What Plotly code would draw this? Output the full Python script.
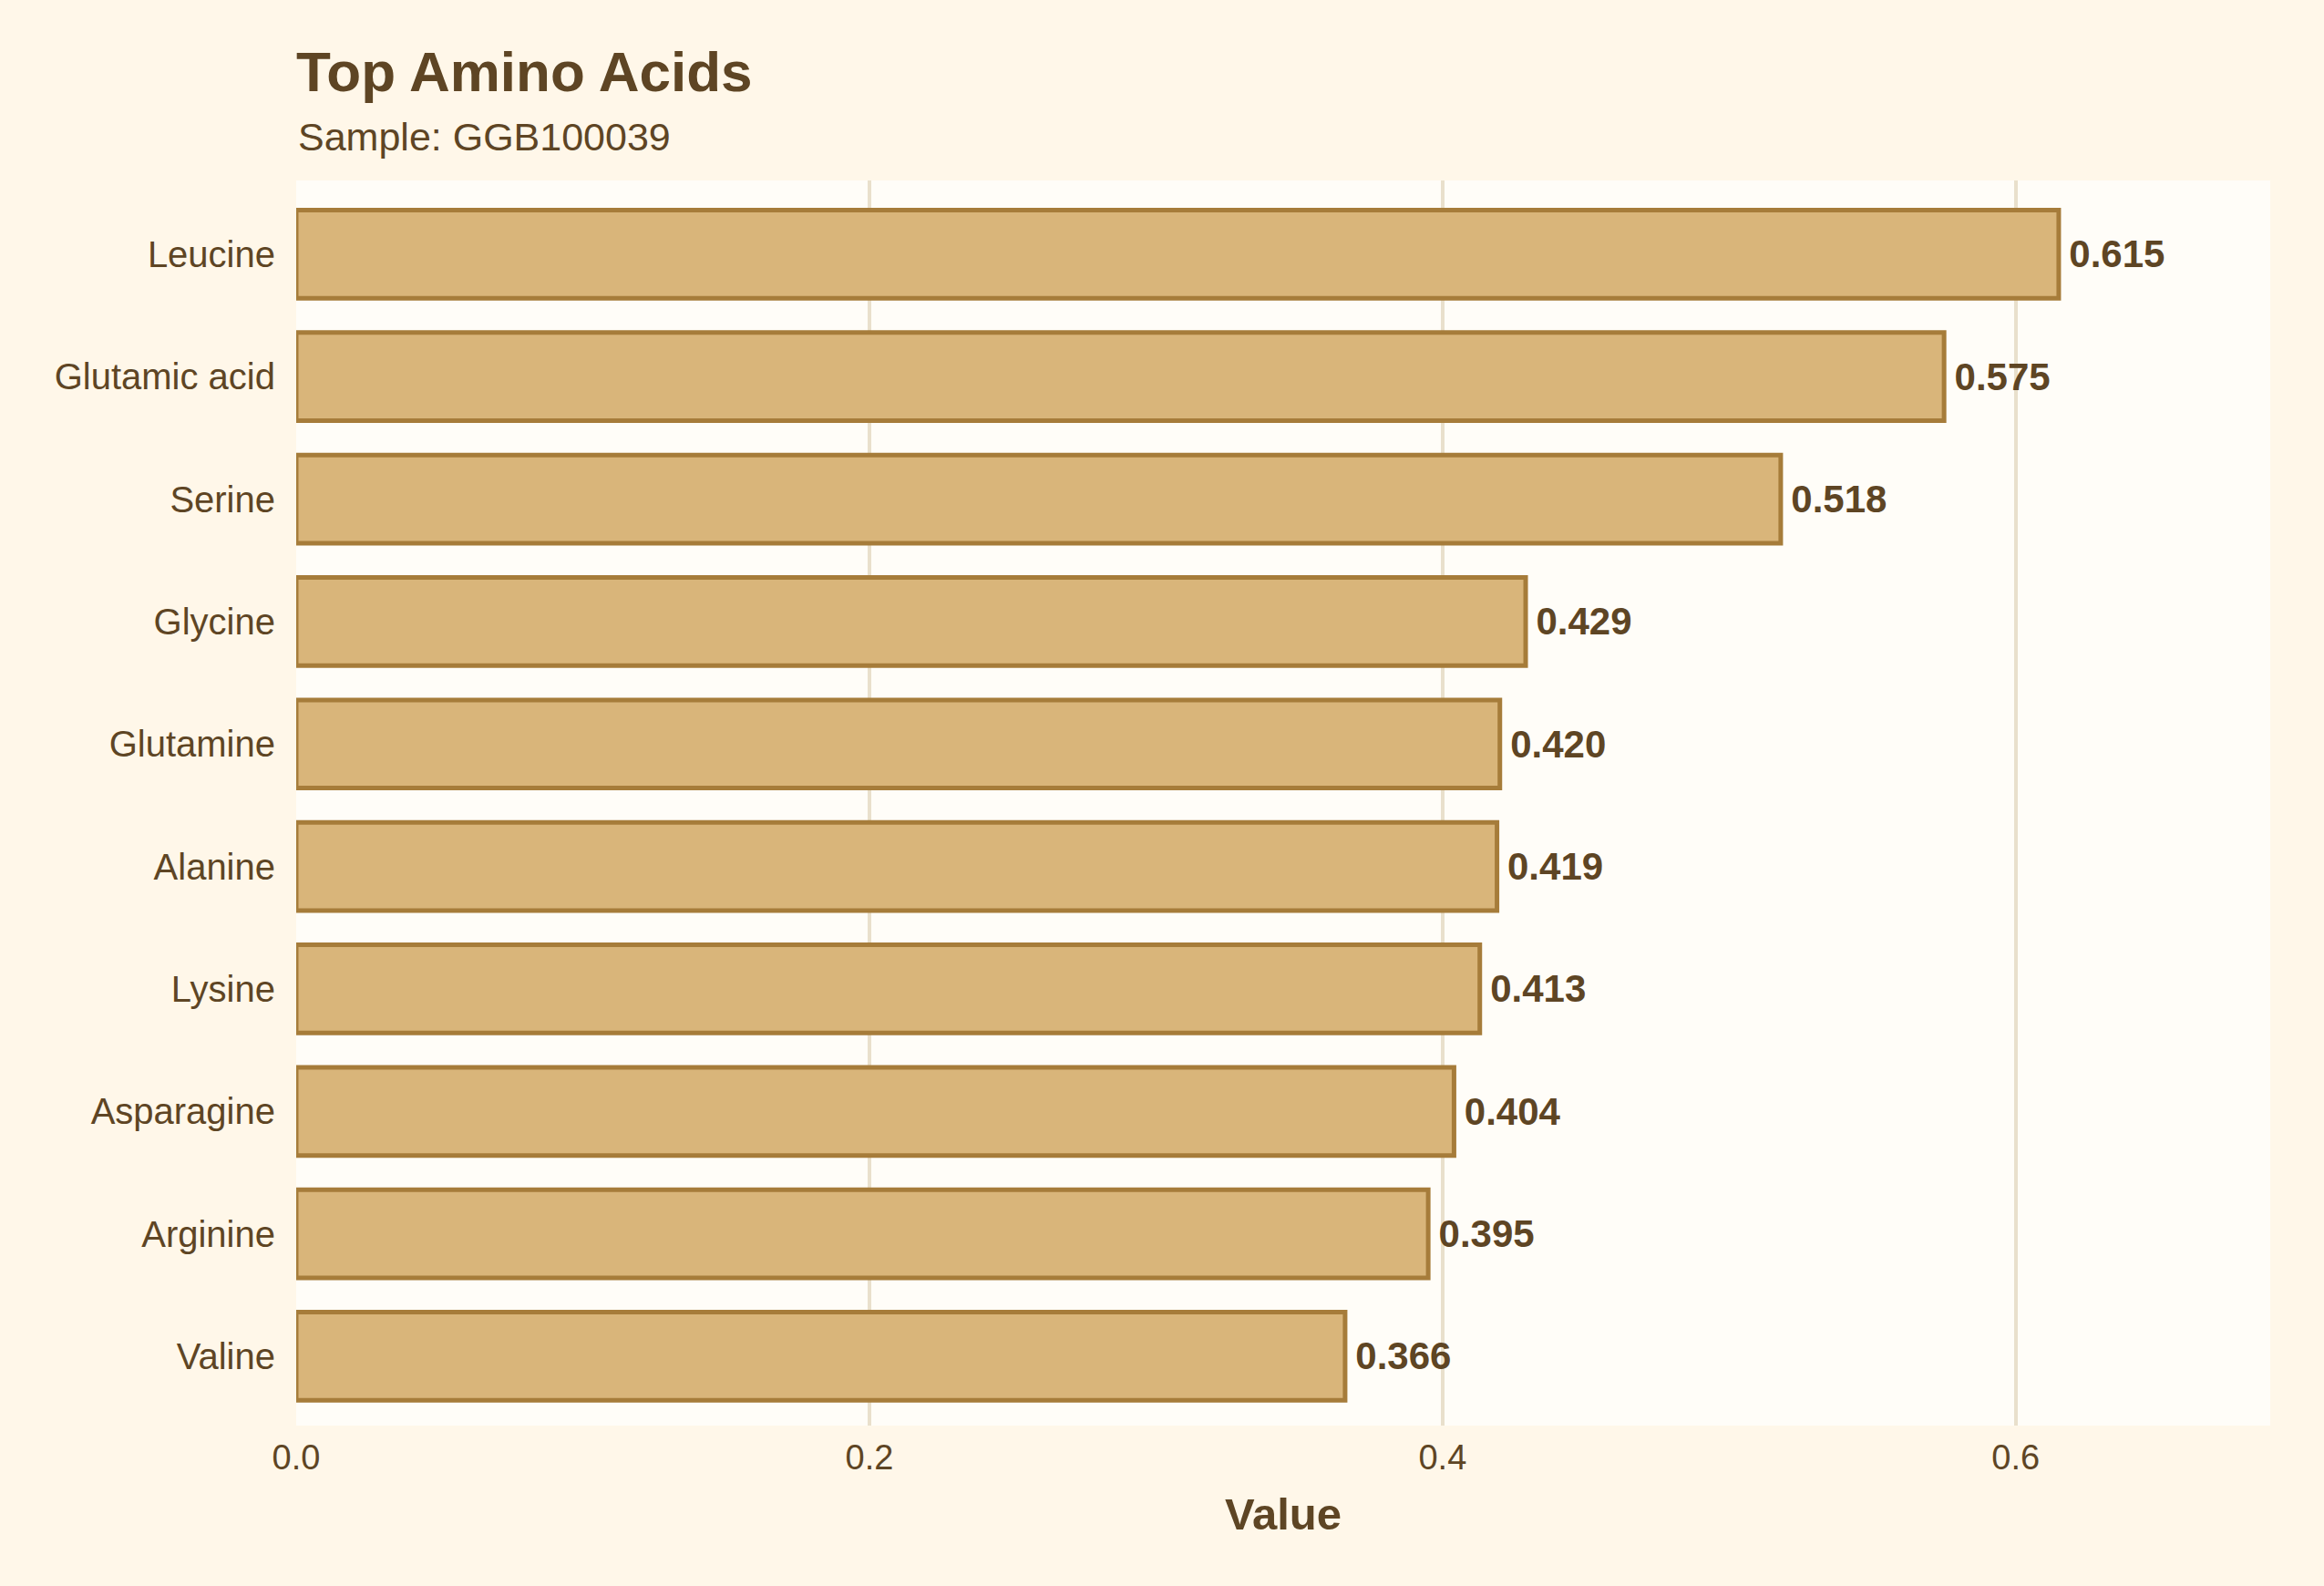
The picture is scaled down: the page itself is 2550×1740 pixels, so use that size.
import plotly.graph_objects as go

# amino acids, highest first
acids = ["Leucine", "Glutamic acid", "Serine", "Glycine", "Glutamine",
         "Alanine", "Lysine", "Asparagine", "Arginine", "Valine"]
values = [0.615, 0.575, 0.518, 0.429, 0.420, 0.419, 0.413, 0.404, 0.395, 0.366]
x_ticks = [0.0, 0.2, 0.4, 0.6]
x_tick_labels = ["0.0", "0.2", "0.4", "0.6"]

ink = "#5E4524"
font = "Liberation Sans, Arial, Helvetica, sans-serif"

fig = go.Figure(
    go.Bar(
        x=values[::-1],
        y=acids[::-1],
        orientation="h",
        width=0.72,
        marker=dict(color="#D9B57A", line=dict(color="#A67C3A", width=5)),
        text=["\u2009" + f"{v:.3f}" for v in values[::-1]],
        textposition="outside",
        textfont=dict(family=font, size=42, color=ink, weight="bold"),
        cliponaxis=False,
        hoverinfo="skip",
    )
)

fig.update_layout(
    width=2550,
    height=1740,
    paper_bgcolor="#FFF7E9",
    plot_bgcolor="#FFFDF8",
    margin=dict(l=325, r=59, t=198, b=176),
    showlegend=False,
    font=dict(family=font, color=ink),
    title=dict(
        text="<b>Top Amino Acids</b>",
        font=dict(family=font, size=62, color=ink),
        x=325 / 2550, xanchor="left", xref="container",
        y=1 - 78 / 1740, yanchor="middle", yref="container",
    ),
    annotations=[
        dict(
            text="Sample: GGB100039",
            xref="paper", yref="paper",
            x=0, y=1 + 48 / 1366, xanchor="left", yanchor="middle",
            showarrow=False,
            font=dict(family=font, size=43, color=ink),
        )
    ],
    xaxis=dict(
        range=[0, max(values) * 1.12],
        tickvals=x_ticks,
        ticktext=x_tick_labels,
        tickfont=dict(size=38, color=ink),
        showgrid=True,
        gridcolor="#E9E0CC",
        gridwidth=4,
        zeroline=False,
        showline=False,
        ticks="",
        ticklabelstandoff=9,
        title=dict(text="<b>Value</b>", font=dict(size=49, color=ink), standoff=24),
    ),
    yaxis=dict(
        categoryorder="array",
        categoryarray=acids[::-1],
        range=[-0.566, 9.602],
        tickfont=dict(size=40, color=ink),
        showgrid=False,
        zeroline=False,
        showline=False,
        ticks="",
        ticklabelstandoff=22,
    ),
)

fig.write_html(
    "out.html",
    config={"displayModeBar": False},
    post_script="document.body.style.margin='0';",
)
